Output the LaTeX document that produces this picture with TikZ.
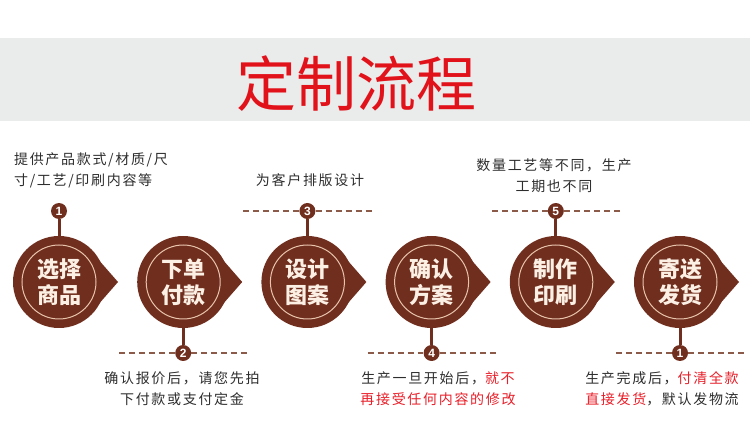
\documentclass[tikz,border=0pt]{standalone}
\usepackage{fontspec}
\setmainfont{Liberation Sans}
\newfontfamily\cjk{Noto Sans CJK SC}
\newfontfamily\cjknote[LetterSpace=12]{Noto Sans CJK SC}
\definecolor{stepBrown}{RGB}{112, 46, 30}
\definecolor{stepCream}{RGB}{252, 240, 228}
\definecolor{ringLine}{RGB}{232, 196, 172}
\definecolor{ruleBrown}{RGB}{140, 90, 72}
\definecolor{bandGray}{RGB}{234, 236, 235}
\definecolor{titleRed}{RGB}{226, 18, 27}
\definecolor{noteGray}{RGB}{45, 45, 45}
\definecolor{noteRed}{RGB}{232, 30, 40}

\begin{document}
\begin{tikzpicture}[x=1pt, y=-1pt,
    stepcircle/.style={circle, fill=stepBrown, minimum size=92pt, inner sep=0pt,
      text=stepCream, align=center, font=\cjk\bfseries\fontsize{22}{26}\selectfont},
    badge/.style={circle, fill=stepBrown, minimum size=16pt, inner sep=0pt,
      text=white, font=\bfseries\fontsize{12}{12}\selectfont},
    stem/.style={stepBrown, line width=3pt},
    rule/.style={ruleBrown, line width=1.2pt, dash pattern=on 6pt off 4pt},
    note/.style={text=noteGray, align=center, inner sep=0pt,
      font=\cjknote\fontsize{14}{21}\selectfont}]
  \useasboundingbox (0,0) rectangle (750,430);
  \fill[bandGray] (0,38) rectangle (750,121);
  \node[text=titleRed, font=\cjk\fontsize{60}{60}\selectfont] (title) at (356,84) {定制流程};

  % circles with their pointers
  \foreach \i/\a/\b in {1/选择/商品, 2/下单/付款, 3/设计/图案, 4/确认/方案, 5/制作/印刷, 6/寄送/发货} {
    \pgfmathsetmacro\cx{59+124.2*(\i-1)}
    \fill[stepBrown] ([shift={(32:45)}]\cx,282) -- (\cx+59,282) -- ([shift={(-32:45)}]\cx,282) -- cycle;
    \node[stepcircle] (s\i) at (\cx,282) {\a\\\b};
    \draw[ringLine, line width=1pt] (s\i.center) circle (37pt);
  }

  % numbered badges
  \foreach \i/\num/\by in {1/1/211, 2/2/353, 3/3/211, 4/4/353, 5/5/211, 6/1/353} {
    \pgfmathsetmacro\cx{59+124.2*(\i-1)}
    \node[badge] (n\i) at (\cx,\by) {\num};
    \draw[stem] (n\i) -- (s\i);
  }
  \foreach \i in {2,...,6} {
    \draw[rule] ([xshift=-64pt]n\i.center) -- (n\i.west);
    \draw[rule] (n\i.east) -- ([xshift=68pt]n\i.center);
  }

  % notes
  \node[note, align=left] (t1) at (91,170) {提供产品款式/材质/尺\\寸/工艺/印刷内容等};
  \node[note] (t3) at (310,180) {为客户排版设计};
  \node[note] (t5) at (554,176) {数量工艺等不同，生产\\工期也不同};
  \node[note] (t2) at (182,389) {确认报价后，请您先拍\\下付款或支付定金};
  \node[note] (t4) at (438,389) {生产一旦开始后，\textcolor{noteRed}{就不}\\\textcolor{noteRed}{再接受任何内容的修改}};
  \node[note] (t6) at (662,389) {生产完成后，\textcolor{noteRed}{付清全款}\\\textcolor{noteRed}{直接发货}，默认发物流};
\end{tikzpicture}
\end{document}
